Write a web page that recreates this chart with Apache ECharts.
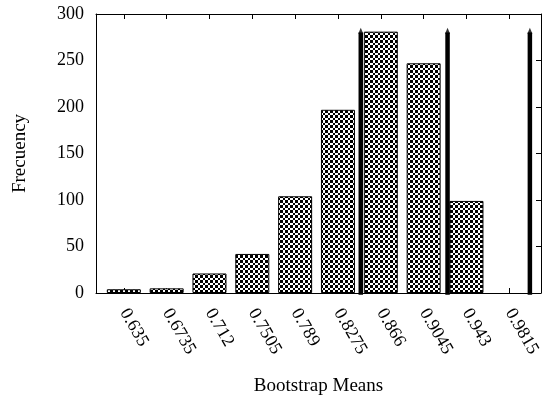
<!DOCTYPE html>
<html>
<head>
<meta charset="utf-8">
<script src="https://cdn.jsdelivr.net/npm/echarts@6/dist/echarts.min.js"></script>
<style>
  html, body { margin: 0; padding: 0; background: #fff; }
  #chart { width: 543px; height: 396px; }
</style>
</head>
<body>
<div id="chart"></div>
<script>
// bin centres (bootstrap means) and counts
const binLabels = ['0.635', '0.6735', '0.712', '0.7505', '0.789', '0.8275', '0.866', '0.9045', '0.943', '0.9815']
const binCenters = [0.635, 0.6735, 0.712, 0.7505, 0.789, 0.8275, 0.866, 0.9045, 0.943, 0.9815]
const counts = [4, 5, 21, 42, 104, 197, 281, 247, 99, 0]
// vertical markers: x position and height
const markerX = [0.848, 0.926, 1.0]
const markerTop = 283
const yTicks = [0, 50, 100, 150, 200, 250, 300]

const font = 'Liberation Serif'

// crosshatch fill, rendered as a small checkerboard tile (3px + 2px cells)
const makeHatch = () => {
  const c = document.createElement('canvas')
  c.width = 5
  c.height = 5
  const ctx = c.getContext('2d')
  ctx.fillStyle = '#fff'
  ctx.fillRect(0, 0, 5, 5)
  ctx.fillStyle = '#000'
  ctx.fillRect(0, 0, 3, 3)
  ctx.fillRect(3, 3, 2, 2)
  return c
}

const chart = echarts.init(document.getElementById('chart'), null, { renderer: 'canvas' })

const labelFor = (v) => {
  let best = 0
  binCenters.forEach((c, i) => { if (Math.abs(c - v) < Math.abs(binCenters[best] - v)) best = i })
  return binLabels[best]
}

const axisLine = { show: true, onZero: false, lineStyle: { color: '#000', width: 1 } }

const markerSeries = markerX.map((x) => ({
  type: 'line',
  xAxisIndex: 0,
  yAxisIndex: 0,
  data: [[x, -2], [x, markerTop - 3]],
  showSymbol: false,
  symbol: 'none',
  silent: true,
  lineStyle: { color: '#000', width: 4.5, cap: 'butt' },
  z: 3,
}))

const tipSeries = {
  type: 'scatter',
  xAxisIndex: 0,
  yAxisIndex: 0,
  data: markerX.map((x) => [x, markerTop - 1]),
  symbol: 'triangle',
  symbolSize: [5, 6],
  silent: true,
  itemStyle: { color: '#000' },
  z: 3,
}

chart.setOption({
  animation: false,
  grid: { left: 96, right: 2, top: 14, bottom: 103, containLabel: false, outerBoundsMode: 'none' },
  xAxis: [
    {
      type: 'value',
      position: 'bottom',
      min: 0.61,
      max: 1.01,
      name: 'Bootstrap Means',
      nameLocation: 'middle',
      nameGap: 84,
      nameTextStyle: { fontFamily: font, fontSize: 19, color: '#000' },
      axisLine,
      splitLine: { show: false },
      axisTick: { show: true, inside: true, length: 5, customValues: binCenters, lineStyle: { color: '#000' } },
      axisLabel: {
        show: true,
        rotate: -60,
        margin: 17,
        customValues: binCenters,
        fontFamily: font,
        fontSize: 18,
        color: '#000',
        formatter: (v) => labelFor(v),
      },
    },
    {
      type: 'value',
      position: 'top',
      min: 0.61,
      max: 1.01,
      axisLine,
      splitLine: { show: false },
      axisTick: { show: true, inside: true, length: 5, customValues: binCenters, lineStyle: { color: '#000' } },
      axisLabel: { show: false },
    },
  ],
  yAxis: [
    {
      type: 'value',
      position: 'left',
      min: 0,
      max: 300,
      interval: 50,
      name: 'Frecuency',
      nameLocation: 'middle',
      nameGap: 66,
      nameRotate: 90,
      nameTextStyle: { fontFamily: font, fontSize: 19, color: '#000' },
      axisLine,
      splitLine: { show: false },
      axisTick: { show: false },
      axisLabel: { fontFamily: font, fontSize: 18, color: '#000', margin: 12 },
    },
    {
      type: 'value',
      position: 'right',
      min: 0,
      max: 300,
      interval: 50,
      axisLine,
      splitLine: { show: false },
      axisTick: { show: true, inside: true, length: 5, customValues: yTicks, lineStyle: { color: '#000' } },
      axisLabel: { show: false },
    },
  ],
  series: [
    {
      type: 'bar',
      xAxisIndex: 0,
      yAxisIndex: 0,
      barWidth: 34,
      data: counts.map((v, i) => [binCenters[i], v || '-']),
      itemStyle: {
        color: { image: makeHatch(), repeat: 'repeat' },
        borderColor: '#000',
        borderWidth: 1,
      },
      emphasis: { disabled: true },
    },
    ...markerSeries,
    tipSeries,
  ],
})
</script>
</body>
</html>
